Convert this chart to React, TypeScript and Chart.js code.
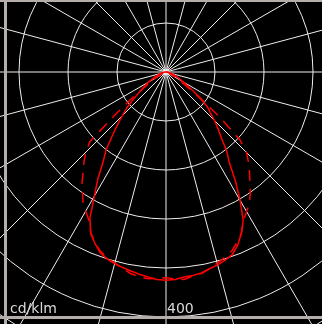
import React, { useEffect, useRef } from "react";
import { Chart, registerables } from "chart.js";

Chart.register(...registerables);

// Gamma angles (degrees from nadir) sampled every GAMMA_STEP, 0..90
const GAMMA_STEP = 2.5;

// Luminous intensity, cd/klm. C0-C180 plane (solid), right and left halves
const solidRight = [
  340, 339, 336, 335, 333, 329, 326, 322, 317, 306, 291, 273, 242, 211, 180, 163, 141, 126, 112,
  98, 88, 70, 54, 41, 33, 26, 21, 16, 13, 11, 8, 7, 5, 4, 3, 2, 1,
];
const solidLeft = [
  340, 339, 336, 333, 330, 327, 324, 320, 314, 303, 291, 269, 234, 207, 179, 161, 137, 118, 101,
  87, 70, 56, 46, 39, 33, 26, 21, 16, 13, 11, 8, 7, 5, 4, 3, 2, 1,
];
// C90-C270 plane (dashed)
const dashedRight = [
  336, 338, 340, 336, 334, 329, 323, 318, 312, 302, 291, 274, 263, 254, 240, 225, 212, 199, 186,
  163, 114, 72, 42, 26, 18, 13, 10, 8, 7, 5, 4, 3, 3, 2, 2, 1, 1,
];
const dashedLeft = [
  336, 337, 339, 337, 334, 328, 323, 318, 312, 302, 290, 273, 262, 252, 238, 225, 210, 198, 185,
  169, 108, 69, 41, 26, 18, 13, 10, 8, 7, 5, 4, 3, 3, 2, 2, 1, 1,
];

const unitLabel = "cd/klm";
const markedValue = 400;
const ringStep = 80;
const scaleMax = 480;
const spokeEvery = 15;

const GRID = "#eeeeee";
const RED = "#ff0000";
const TEXT = "#d9d9d9";
const FRAME = "#b4ada9";

function buildRadar(right: number[], left: number[]): number[] {
  const n = Math.round(360 / GAMMA_STEP);
  const out: number[] = [];
  for (let i = 0; i < n; i++) {
    const theta = i * GAMMA_STEP; // clockwise from top
    let gamma: number;
    let arr: number[];
    if (theta <= 180) {
      gamma = 180 - theta;
      arr = right;
    } else {
      gamma = theta - 180;
      arr = left;
    }
    const k = Math.round(gamma / GAMMA_STEP);
    out.push(k < arr.length ? arr[k] : 0);
  }
  return out;
}

const angleLabels = Array.from({ length: Math.round(360 / GAMMA_STEP) }, (_, i) => String(i * GAMMA_STEP));
const spokeIndexStep = Math.round(spokeEvery / GAMMA_STEP);

const textPlugin = {
  id: "polarText",
  afterDraw(chart: any) {
    const s = chart.scales.r;
    const ctx = chart.ctx;
    ctx.save();
    ctx.font = '14px "DejaVu Sans"';
    ctx.fillStyle = TEXT;
    ctx.textAlign = "left";
    ctx.textBaseline = "alphabetic";
    const y = s.yCenter + s.getDistanceFromCenterForValue(markedValue) - 4;
    ctx.fillText(String(markedValue), s.xCenter + 1, y);
    ctx.fillText(unitLabel, s.xCenter - 156, y);
    ctx.restore();
  },
};

export default function App() {
  const ref = useRef<HTMLCanvasElement | null>(null);

  useEffect(() => {
    if (!ref.current) return;
    const chart = new Chart(ref.current, {
      type: "radar",
      data: {
        labels: angleLabels,
        datasets: [
          {
            label: "C90-C270",
            data: buildRadar(dashedRight, dashedLeft),
            borderColor: RED,
            borderWidth: 1.5,
            borderDash: [11, 8],
            pointRadius: 0,
            fill: false,
            tension: 0,
          },
          {
            label: "C0-C180",
            data: buildRadar(solidRight, solidLeft),
            borderColor: RED,
            borderWidth: 1.5,
            pointRadius: 0,
            fill: false,
            tension: 0,
          },
        ],
      },
      options: {
        animation: false,
        responsive: false,
        layout: { padding: 0 },
        plugins: {
          legend: { display: false },
          tooltip: { enabled: false },
        },
        scales: {
          r: {
            min: 0,
            max: scaleMax,
            ticks: { display: false, stepSize: ringStep },
            grid: { circular: true, color: GRID, lineWidth: 1 },
            angleLines: {
              display: true,
              color: GRID,
              lineWidth: (c: any) => (c.index % spokeIndexStep === 0 ? 1 : 0),
            },
            pointLabels: { display: false },
          },
        },
      },
      plugins: [textPlugin],
    });
    return () => chart.destroy();
  }, []);

  return (
    <div
      style={{
        position: "fixed",
        left: 0,
        top: 0,
        width: 322,
        height: 324,
        overflow: "hidden",
        background: "#000",
      }}
    >
      <canvas
        ref={ref}
        width={588}
        height={588}
        style={{ position: "absolute", left: -128, top: -222, width: 588, height: 588 }}
      />
      <div style={{ position: "absolute", left: 0, top: 0, width: 322, height: 2, background: FRAME }} />
      <div style={{ position: "absolute", left: 0, top: 316, width: 322, height: 3, background: FRAME }} />
      <div style={{ position: "absolute", left: 4, top: 0, width: 3, height: 324, background: FRAME }} />
    </div>
  );
}
